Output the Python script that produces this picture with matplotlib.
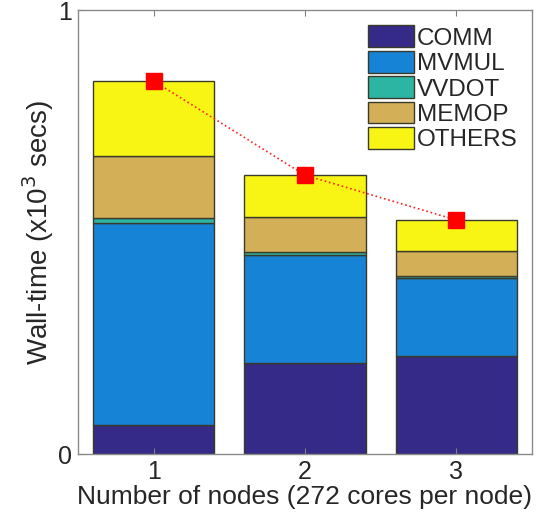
import matplotlib
matplotlib.use("Agg")
import matplotlib.pyplot as plt
import numpy as np

plt.rcParams['font.family'] = ['Liberation Sans', 'DejaVu Sans']

nodes = [1, 2, 3]
comm = [0.065, 0.204, 0.221]
mvmul = [0.456, 0.244, 0.175]
vvdot = [0.010, 0.008, 0.005]
memop = [0.140, 0.077, 0.057]
others = [0.169, 0.095, 0.069]

labels = ['COMM', 'MVMUL', 'VVDOT', 'MEMOP', 'OTHERS']
colors = ['#352A87', '#1683D6', '#2DB5A4', '#D3AF58', '#F8F514']
series = [comm, mvmul, vvdot, memop, others]

fig = plt.figure(figsize=(5.36, 5.13), dpi=100)
ax = fig.add_axes([0.1455, 0.115, 0.847, 0.8655])

x = np.array(nodes, dtype=float)
bottom = np.zeros(len(nodes))
for vals, lab, col in zip(series, labels, colors):
    ax.bar(x, vals, width=0.8, bottom=bottom, color=col, edgecolor='#3a3a2a',
           linewidth=1.0, label=lab)
    bottom = bottom + np.array(vals)

total = bottom
ax.plot(x, total, linestyle=':', color='#ff2020', linewidth=1.2,
        marker='s', markersize=12, markerfacecolor='#ff0000',
        markeredgecolor='#ff0000')

ax.set_xlim(0.5, 3.5)
ax.set_ylim(0, 1)
ax.set_xticks(nodes)
ax.set_yticks([0, 1])
ax.set_yticklabels(['0', '1'])
ax.tick_params(direction='in', top=True, right=False, length=4,
               labelsize=18, colors='#808080', labelcolor='#262626', pad=4)
for s in ax.spines.values():
    s.set_color('#8a8a8a')
    s.set_linewidth(1.0)

ax.set_xlabel('Number of nodes (272 cores per node)', fontsize=19,
              color='#262626', labelpad=1)
ax.set_ylabel('Wall-time (x10$^3$ secs)', fontsize=20, color='#262626',
              labelpad=2)

leg = ax.legend(loc='upper right', bbox_to_anchor=(1.0, 0.998), frameon=False,
                fontsize=17.5, handlelength=1.9, handleheight=1.0,
                handletextpad=0.1, labelspacing=0.05, borderaxespad=0.2)
for t in leg.get_texts():
    t.set_color('#262626')

fig.savefig('out.png', dpi=100)
